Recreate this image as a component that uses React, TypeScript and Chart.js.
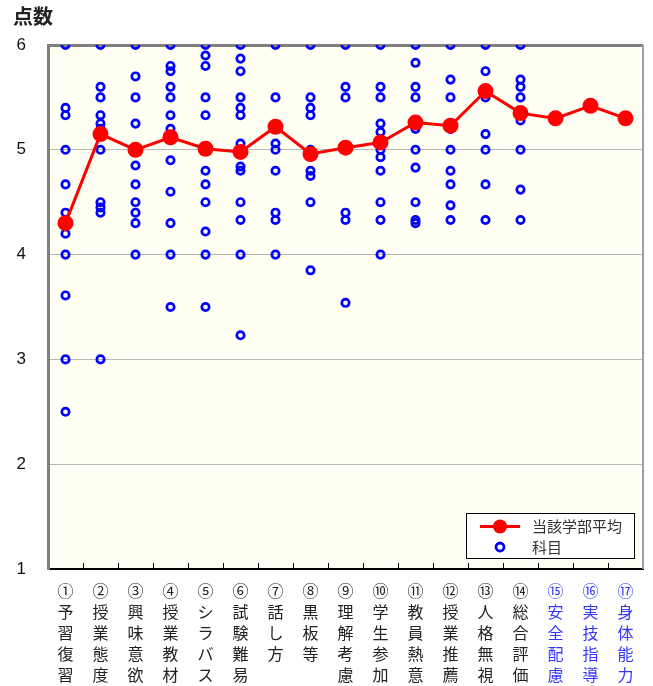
import React, { useEffect, useRef } from "react";
import { Chart, registerables } from "chart.js";

Chart.register(...registerables);

const circledNumbers = ["①","②","③","④","⑤","⑥","⑦","⑧","⑨","⑩","⑪","⑫","⑬","⑭","⑮","⑯","⑰"];
const categoryNames = ["予習復習","授業態度","興味意欲","授業教材","シラバス","試験難易","話し方","黒板等","理解考慮","学生参加","教員熱意","授業推薦","人格無視","総合評価","安全配慮","実技指導","身体能力"];

const facultyAverage = [4.30, 5.15, 5.00, 5.12, 5.01, 4.98, 5.22, 4.96, 5.02, 5.07, 5.26, 5.23, 5.56, 5.35, 5.30, 5.42, 5.30];

const subj01 = [6.0, 5.40, 5.33, 5.0, 4.67, 4.40, 4.20, 4.0, 3.61, 3.0, 2.5];
const subj02 = [6.0, 5.60, 5.50, 5.33, 5.25, 5.20, 5.0, 4.50, 4.45, 4.40, 3.0];
const subj03 = [6.0, 5.70, 5.50, 5.25, 5.0, 4.85, 4.67, 4.50, 4.40, 4.30, 4.0];
const subj04 = [6.0, 5.80, 5.75, 5.60, 5.50, 5.33, 5.20, 5.12, 4.90, 4.60, 4.30, 4.0, 3.50];
const subj05 = [6.0, 5.90, 5.80, 5.50, 5.33, 5.0, 4.80, 4.67, 4.50, 4.22, 4.0, 3.50];
const subj06 = [6.0, 5.87, 5.75, 5.50, 5.40, 5.33, 5.06, 4.98, 4.84, 4.80, 4.50, 4.33, 4.0, 3.23];
const subj07 = [6.0, 5.50, 5.22, 5.06, 5.0, 4.80, 4.40, 4.33, 4.0];
const subj08 = [6.0, 5.50, 5.40, 5.33, 5.0, 4.96, 4.80, 4.75, 4.50, 3.85];
const subj09 = [6.0, 5.60, 5.50, 5.02, 4.40, 4.33, 3.54];
const subj10 = [6.0, 5.60, 5.50, 5.25, 5.17, 5.07, 5.0, 4.93, 4.80, 4.50, 4.33, 4.0];
const subj11 = [6.0, 5.83, 5.60, 5.50, 5.26, 5.20, 5.0, 4.83, 4.50, 4.33, 4.30];
const subj12 = [6.0, 5.67, 5.50, 5.23, 5.20, 5.0, 4.80, 4.67, 4.47, 4.33];
const subj13 = [6.0, 5.75, 5.56, 5.50, 5.15, 5.0, 4.67, 4.33];
const subj14 = [6.0, 5.67, 5.60, 5.50, 5.35, 5.28, 5.0, 4.62, 4.33];

const subjectLists = [subj01, subj02, subj03, subj04, subj05, subj06, subj07, subj08, subj09, subj10, subj11, subj12, subj13, subj14];

const yTicks = [1, 2, 3, 4, 5, 6];

const FONT_JP = "'Noto Sans CJK JP', 'Noto Sans', sans-serif";

const decorPlugin = {
  id: "decor",
  beforeDraw(chart: any) {
    const { ctx, chartArea: a } = chart;
    ctx.save();
    ctx.fillStyle = "#fffff4";
    ctx.fillRect(a.left, a.top, a.right - a.left, a.bottom - a.top);
    ctx.restore();
  },
  afterDraw(chart: any) {
    const { ctx, chartArea: a } = chart;
    const xs = chart.scales.x;
    ctx.save();
    // right border
    ctx.strokeStyle = "#a0a0a0";
    ctx.lineWidth = 2;
    ctx.beginPath();
    ctx.moveTo(a.right, a.top);
    ctx.lineTo(a.right, a.bottom);
    ctx.stroke();
    // inward tick marks at category boundaries
    ctx.strokeStyle = "#000";
    ctx.lineWidth = 1;
    const n = chart.data.labels.length;
    for (let i = 0; i < n - 1; i++) {
      const x = Math.round((xs.getPixelForValue(i) + xs.getPixelForValue(i + 1)) / 2) + 0.5;
      ctx.beginPath();
      ctx.moveTo(x, a.bottom);
      ctx.lineTo(x, a.bottom - 6);
      ctx.stroke();
    }
    // y title
    ctx.fillStyle = "#222";
    ctx.font = "bold 20px " + FONT_JP;
    ctx.textBaseline = "middle";
    ctx.textAlign = "left";
    ctx.fillText("点数", 13, 16);
    // legend
    const lx = 466, ly = 513, lw = 168, lh = 45;
    ctx.fillStyle = "#ffffff";
    ctx.fillRect(lx, ly, lw, lh);
    ctx.strokeStyle = "#000";
    ctx.lineWidth = 1;
    ctx.strokeRect(lx + 0.5, ly + 0.5, lw, lh);
    const r1 = ly + 13.5, r2 = ly + 34;
    ctx.strokeStyle = "#ff0000";
    ctx.lineWidth = 3;
    ctx.beginPath();
    ctx.moveTo(480, r1);
    ctx.lineTo(520, r1);
    ctx.stroke();
    ctx.fillStyle = "#ff0000";
    ctx.beginPath();
    ctx.arc(500, r1, 7, 0, Math.PI * 2);
    ctx.fill();
    ctx.strokeStyle = "#0000ff";
    ctx.lineWidth = 2.8;
    ctx.beginPath();
    ctx.arc(500, r2, 4, 0, Math.PI * 2);
    ctx.stroke();
    ctx.fillStyle = "#333";
    ctx.font = "15px " + FONT_JP;
    ctx.fillText("当該学部平均", 532, r1);
    ctx.fillText("科目", 532, r2);
    ctx.restore();
  },
};

export default function App() {
  const ref = useRef<HTMLCanvasElement | null>(null);

  useEffect(() => {
    document.body.style.margin = "0";
    const scatterData: { x: string; y: number }[] = [];
    subjectLists.forEach((list, i) => list.forEach((v) => scatterData.push({ x: categoryNames[i], y: v })));

    const chart = new Chart(ref.current as HTMLCanvasElement, {
      type: "line",
      data: {
        labels: categoryNames,
        datasets: [
          {
            type: "line",
            label: "当該学部平均",
            data: facultyAverage,
            borderColor: "#ff0000",
            backgroundColor: "#ff0000",
            borderWidth: 3,
            pointRadius: 8,
            pointBorderWidth: 0,
            pointBackgroundColor: "#ff0000",
            order: 0,
          } as any,
          {
            type: "scatter",
            label: "科目",
            data: scatterData,
            borderColor: "#0000ff",
            backgroundColor: "rgba(0,0,0,0)",
            pointRadius: 3.7,
            pointBorderWidth: 2.7,
            showLine: false,
            order: 1,
          } as any,
        ],
      },
      options: {
        animation: false,
        responsive: false,
        layout: { padding: { top: 45, right: 10, left: 0, bottom: 0 } },
        plugins: { legend: { display: false }, tooltip: { enabled: false } },
        scales: {
          x: {
            type: "category",
            offset: true,
            grid: { display: false, drawTicks: false },
            border: { display: true, color: "#000", width: 2 },
            ticks: {
              autoSkip: false,
              maxRotation: 0,
              minRotation: 0,
              padding: 11,
              font: { size: 16, family: FONT_JP, lineHeight: "21px" } as any,
              color: (c: any) => (c.index >= 14 ? "#3535ff" : "#222"),
              callback: (_v: any, i: number) => [circledNumbers[i], ...categoryNames[i].split("")],
            },
            afterFit: (s: any) => {
              s.height = 117;
            },
          },
          y: {
            min: 1,
            max: 6,
            afterBuildTicks: (s: any) => {
              s.ticks = yTicks.map((v) => ({ value: v }));
            },
            grid: {
              drawTicks: false,
              color: (c: any) => (c.tick && c.tick.value === 6 ? "#808080" : c.tick && c.tick.value === 1 ? "rgba(0,0,0,0)" : "#b8b8b8"),
              lineWidth: (c: any) => (c.tick && c.tick.value === 6 ? 3 : 1),
            },
            border: { display: true, color: "#808080", width: 3 },
            ticks: {
              padding: 22,
              color: "#111",
              font: { size: 17, family: "'Liberation Sans', Arial, sans-serif" },
            },
            afterFit: (s: any) => {
              s.width = 48;
            },
          },
        },
      },
      plugins: [decorPlugin],
    });
    return () => chart.destroy();
  }, []);

  return (
    <div style={{ width: 653, height: 686 }}>
      <canvas ref={ref} width={653} height={686} style={{ display: "block" }} />
    </div>
  );
}
